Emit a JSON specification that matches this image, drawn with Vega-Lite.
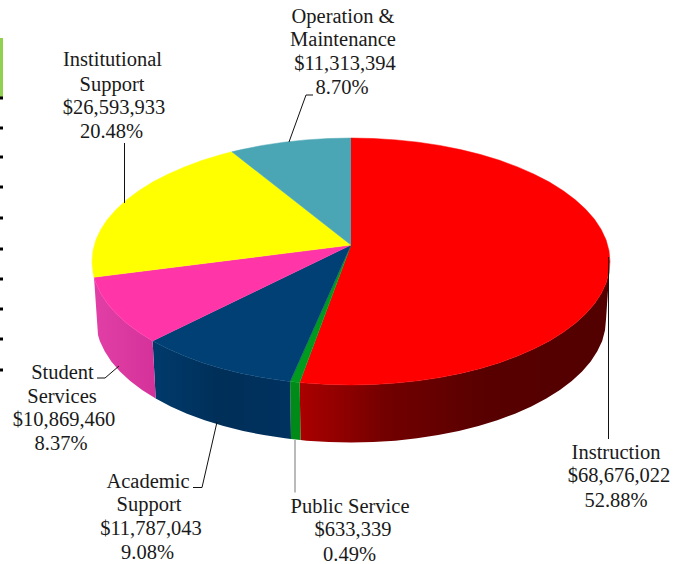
{
"$schema":"https://vega.github.io/schema/vega-lite/v6.json",
"width":684,"height":564,"padding":0,"autosize":{"type":"none"},"background":"white",
"config":{"view":{"stroke":null}},
"datasets":{
"side":[
{"s":"Instruction","i":0,"x":610,"y":261.5},{"s":"Instruction","i":5,"x":609,"y":272.3},{"s":"Instruction","i":10,"x":606.1,"y":283},{"s":"Instruction","i":15,"x":601.2,"y":293.5},{"s":"Instruction","i":20,"x":594.5,"y":303.7},{"s":"Instruction","i":25,"x":585.7,"y":313.7},{"s":"Instruction","i":30,"x":575.3,"y":323.3},{"s":"Instruction","i":35,"x":563.2,"y":332.3},{"s":"Instruction","i":40,"x":549.4,"y":340.9},{"s":"Instruction","i":45,"x":534.1,"y":348.8},{"s":"Instruction","i":50,"x":517.5,"y":356.1},{"s":"Instruction","i":55,"x":499.6,"y":362.7},{"s":"Instruction","i":60,"x":480.5,"y":368.5},{"s":"Instruction","i":65,"x":460.5,"y":373.4},{"s":"Instruction","i":70,"x":439.6,"y":377.6},{"s":"Instruction","i":75,"x":418,"y":380.8},{"s":"Instruction","i":80,"x":396.1,"y":383.1},{"s":"Instruction","i":85,"x":373.6,"y":384.5},{"s":"Instruction","i":90,"x":351,"y":385},{"s":"Instruction","i":95,"x":328.4,"y":384.5},{"s":"Instruction","i":100,"x":305.9,"y":383.1},{"s":"Instruction","i":101,"x":299.7,"y":382.5},
{"s":"Instruction","i":899,"x":300.5,"y":440},{"s":"Instruction","i":900,"x":306.6,"y":440.7},{"s":"Instruction","i":905,"x":328.8,"y":442},{"s":"Instruction","i":910,"x":351,"y":442.5},{"s":"Instruction","i":915,"x":373.2,"y":442},{"s":"Instruction","i":920,"x":395.4,"y":440.7},{"s":"Instruction","i":925,"x":417,"y":438.3},{"s":"Instruction","i":930,"x":438.2,"y":435.1},{"s":"Instruction","i":935,"x":458.8,"y":431},{"s":"Instruction","i":940,"x":478.5,"y":426},{"s":"Instruction","i":945,"x":497.3,"y":420.3},{"s":"Instruction","i":950,"x":515,"y":413.7},{"s":"Instruction","i":955,"x":531.3,"y":406.5},{"s":"Instruction","i":960,"x":546.3,"y":398.6},{"s":"Instruction","i":965,"x":559.9,"y":390.1},{"s":"Instruction","i":970,"x":571.8,"y":381},{"s":"Instruction","i":975,"x":582.1,"y":371.5},{"s":"Instruction","i":980,"x":590.7,"y":361.6},{"s":"Instruction","i":985,"x":597.3,"y":351.3},{"s":"Instruction","i":990,"x":602.2,"y":340.9},{"s":"Instruction","i":995,"x":605,"y":330.2},{"s":"Instruction","i":1000,"x":606,"y":319.5},
{"s":"Public Service","i":1,"x":299.7,"y":382.5},{"s":"Public Service","i":2,"x":290.1,"y":381.5},{"s":"Public Service","i":3,"x":291,"y":439.1},{"s":"Public Service","i":4,"x":300.5,"y":440},
{"s":"Academic Support","i":103,"x":290.1,"y":381.5},{"s":"Academic Support","i":105,"x":284,"y":380.8},{"s":"Academic Support","i":110,"x":262.4,"y":377.6},{"s":"Academic Support","i":115,"x":241.5,"y":373.4},{"s":"Academic Support","i":120,"x":221.5,"y":368.5},{"s":"Academic Support","i":125,"x":202.4,"y":362.7},{"s":"Academic Support","i":130,"x":184.5,"y":356.1},{"s":"Academic Support","i":135,"x":167.9,"y":348.8},{"s":"Academic Support","i":140,"x":152.6,"y":340.9},
{"s":"Academic Support","i":860,"x":155.7,"y":398.6},{"s":"Academic Support","i":865,"x":170.7,"y":406.5},{"s":"Academic Support","i":870,"x":187,"y":413.7},{"s":"Academic Support","i":875,"x":204.7,"y":420.3},{"s":"Academic Support","i":880,"x":223.5,"y":426},{"s":"Academic Support","i":885,"x":243.2,"y":431},{"s":"Academic Support","i":890,"x":263.8,"y":435.1},{"s":"Academic Support","i":895,"x":285,"y":438.3},{"s":"Academic Support","i":897,"x":291,"y":439.1},
{"s":"Student Services","i":140,"x":152.6,"y":340.9},{"s":"Student Services","i":145,"x":138.8,"y":332.3},{"s":"Student Services","i":150,"x":126.7,"y":323.3},{"s":"Student Services","i":155,"x":116.3,"y":313.7},{"s":"Student Services","i":160,"x":107.5,"y":303.7},{"s":"Student Services","i":165,"x":100.8,"y":293.5},{"s":"Student Services","i":170,"x":95.9,"y":283},{"s":"Student Services","i":173,"x":94,"y":277.2},
{"s":"Student Services","i":827,"x":98,"y":335.1},{"s":"Student Services","i":830,"x":99.8,"y":340.9},{"s":"Student Services","i":835,"x":104.7,"y":351.3},{"s":"Student Services","i":840,"x":111.3,"y":361.6},{"s":"Student Services","i":845,"x":119.9,"y":371.5},{"s":"Student Services","i":850,"x":130.2,"y":381},{"s":"Student Services","i":855,"x":142.1,"y":390.1},{"s":"Student Services","i":860,"x":155.7,"y":398.6}
],
"top":[
{"s":"Instruction","i":-1,"x":351,"y":245},{"s":"Instruction","i":270,"x":351,"y":138},{"s":"Instruction","i":275,"x":373.6,"y":138.5},{"s":"Instruction","i":280,"x":396.1,"y":139.9},{"s":"Instruction","i":285,"x":418,"y":142.2},{"s":"Instruction","i":290,"x":439.6,"y":145.4},{"s":"Instruction","i":295,"x":460.5,"y":149.6},{"s":"Instruction","i":300,"x":480.5,"y":154.5},{"s":"Instruction","i":305,"x":499.6,"y":160.3},{"s":"Instruction","i":310,"x":517.5,"y":166.9},{"s":"Instruction","i":315,"x":534.1,"y":174.2},{"s":"Instruction","i":320,"x":549.4,"y":182.1},{"s":"Instruction","i":325,"x":563.2,"y":190.7},{"s":"Instruction","i":330,"x":575.3,"y":199.8},{"s":"Instruction","i":335,"x":585.7,"y":209.3},{"s":"Instruction","i":340,"x":594.5,"y":219.3},{"s":"Instruction","i":345,"x":601.2,"y":229.5},{"s":"Instruction","i":350,"x":606.1,"y":240},{"s":"Instruction","i":355,"x":609,"y":250.7},{"s":"Instruction","i":360,"x":610,"y":261.5},{"s":"Instruction","i":365,"x":609,"y":272.3},{"s":"Instruction","i":370,"x":606.1,"y":283},{"s":"Instruction","i":375,"x":601.2,"y":293.5},{"s":"Instruction","i":380,"x":594.5,"y":303.7},{"s":"Instruction","i":385,"x":585.7,"y":313.7},{"s":"Instruction","i":390,"x":575.3,"y":323.3},{"s":"Instruction","i":395,"x":563.2,"y":332.3},{"s":"Instruction","i":400,"x":549.4,"y":340.9},{"s":"Instruction","i":405,"x":534.1,"y":348.8},{"s":"Instruction","i":410,"x":517.5,"y":356.1},{"s":"Instruction","i":415,"x":499.6,"y":362.7},{"s":"Instruction","i":420,"x":480.5,"y":368.5},{"s":"Instruction","i":425,"x":460.5,"y":373.4},{"s":"Instruction","i":430,"x":439.6,"y":377.6},{"s":"Instruction","i":435,"x":418,"y":380.8},{"s":"Instruction","i":440,"x":396.1,"y":383.1},{"s":"Instruction","i":445,"x":373.6,"y":384.5},{"s":"Instruction","i":450,"x":351,"y":385},{"s":"Instruction","i":455,"x":328.4,"y":384.5},{"s":"Instruction","i":460,"x":305.9,"y":383.1},{"s":"Instruction","i":461,"x":299.7,"y":382.5},
{"s":"Public Service","i":0,"x":351,"y":245},{"s":"Public Service","i":1,"x":299.7,"y":382.5},{"s":"Public Service","i":2,"x":290.1,"y":381.5},
{"s":"Academic Support","i":0,"x":351,"y":245},{"s":"Academic Support","i":103,"x":290.1,"y":381.5},{"s":"Academic Support","i":105,"x":284,"y":380.8},{"s":"Academic Support","i":110,"x":262.4,"y":377.6},{"s":"Academic Support","i":115,"x":241.5,"y":373.4},{"s":"Academic Support","i":120,"x":221.5,"y":368.5},{"s":"Academic Support","i":125,"x":202.4,"y":362.7},{"s":"Academic Support","i":130,"x":184.5,"y":356.1},{"s":"Academic Support","i":135,"x":167.9,"y":348.8},{"s":"Academic Support","i":140,"x":152.6,"y":340.9},
{"s":"Student Services","i":0,"x":351,"y":245},{"s":"Student Services","i":140,"x":152.6,"y":340.9},{"s":"Student Services","i":145,"x":138.8,"y":332.3},{"s":"Student Services","i":150,"x":126.7,"y":323.3},{"s":"Student Services","i":155,"x":116.3,"y":313.7},{"s":"Student Services","i":160,"x":107.5,"y":303.7},{"s":"Student Services","i":165,"x":100.8,"y":293.5},{"s":"Student Services","i":170,"x":95.9,"y":283},{"s":"Student Services","i":173,"x":94,"y":277.2},
{"s":"Institutional Support","i":0,"x":351,"y":245},{"s":"Institutional Support","i":173,"x":94,"y":277.2},{"s":"Institutional Support","i":175,"x":93,"y":272.3},{"s":"Institutional Support","i":180,"x":92,"y":261.5},{"s":"Institutional Support","i":185,"x":93,"y":250.7},{"s":"Institutional Support","i":190,"x":95.9,"y":240},{"s":"Institutional Support","i":195,"x":100.8,"y":229.5},{"s":"Institutional Support","i":200,"x":107.5,"y":219.3},{"s":"Institutional Support","i":205,"x":116.3,"y":209.3},{"s":"Institutional Support","i":210,"x":126.7,"y":199.8},{"s":"Institutional Support","i":215,"x":138.8,"y":190.7},{"s":"Institutional Support","i":220,"x":152.6,"y":182.1},{"s":"Institutional Support","i":225,"x":167.9,"y":174.2},{"s":"Institutional Support","i":230,"x":184.5,"y":166.9},{"s":"Institutional Support","i":235,"x":202.4,"y":160.3},{"s":"Institutional Support","i":240,"x":221.5,"y":154.5},{"s":"Institutional Support","i":243,"x":231.9,"y":151.8},
{"s":"Operation & Maintenance","i":0,"x":351,"y":245},{"s":"Operation & Maintenance","i":243,"x":231.9,"y":151.8},{"s":"Operation & Maintenance","i":245,"x":241.5,"y":149.6},{"s":"Operation & Maintenance","i":250,"x":262.4,"y":145.4},{"s":"Operation & Maintenance","i":255,"x":284,"y":142.2},{"s":"Operation & Maintenance","i":260,"x":305.9,"y":139.9},{"s":"Operation & Maintenance","i":265,"x":328.4,"y":138.5},{"s":"Operation & Maintenance","i":270,"x":351,"y":138}
],
"leaders":[
{"s":"Instruction","i":1,"x":608.5,"y":257},{"s":"Instruction","i":2,"x":608.5,"y":439},
{"s":"Public Service","i":1,"x":295,"y":440},{"s":"Public Service","i":2,"x":295,"y":492.5},
{"s":"Academic Support","i":1,"x":217,"y":422},{"s":"Academic Support","i":2,"x":202,"y":487.5},{"s":"Academic Support","i":3,"x":193,"y":487.5},
{"s":"Student Services","i":1,"x":119,"y":366},{"s":"Student Services","i":2,"x":105,"y":378},{"s":"Student Services","i":3,"x":97,"y":378},
{"s":"Institutional Support","i":1,"x":124.5,"y":143},{"s":"Institutional Support","i":2,"x":124.5,"y":203},
{"s":"Operation & Maintenance","i":1,"x":289,"y":142},{"s":"Operation & Maintenance","i":2,"x":306,"y":95},{"s":"Operation & Maintenance","i":3,"x":313,"y":95}
],
"labels":[
{"t":"Operation &","x":343,"y":17},{"t":"Maintenance","x":343,"y":40},{"t":"$11,313,394","x":345,"y":64},{"t":"8.70%","x":342,"y":88},
{"t":"Institutional","x":112.5,"y":60},{"t":"Support","x":112,"y":85},{"t":"$26,593,933","x":114,"y":108},{"t":"20.48%","x":111.5,"y":132},
{"t":"Student","x":62.5,"y":373},{"t":"Services","x":62,"y":397},{"t":"$10,869,460","x":64,"y":420},{"t":"8.37%","x":61,"y":444},
{"t":"Academic","x":148,"y":482},{"t":"Support","x":149,"y":505},{"t":"$11,787,043","x":151,"y":529},{"t":"9.08%","x":147.5,"y":553},
{"t":"Public Service","x":350,"y":507},{"t":"$633,339","x":353,"y":530},{"t":"0.49%","x":349.5,"y":555},
{"t":"Instruction","x":616,"y":453},{"t":"$68,676,022","x":619,"y":476},{"t":"52.88%","x":616,"y":501}
],
"ticks":[{"y":98},{"y":128},{"y":157},{"y":187},{"y":218},{"y":249},{"y":279},{"y":309},{"y":339},{"y":370}]
},
"encoding":{
"x":{"field":"x","type":"quantitative","scale":{"domain":[0,684],"nice":false,"zero":false},"axis":null},
"y":{"field":"y","type":"quantitative","scale":{"domain":[0,564],"reverse":true,"nice":false,"zero":false},"axis":null}
},
"layer":[
{"data":{"values":[{"a":0,"b":3,"c":38,"d":97}]},
 "mark":{"type":"rect","fill":"#92d050"},
 "encoding":{"x":{"field":"a","type":"quantitative"},"x2":{"field":"b"},"y":{"field":"c","type":"quantitative"},"y2":{"field":"d"}}},
{"data":{"name":"ticks"},"transform":[{"calculate":"0","as":"a"},{"calculate":"3","as":"b"}],
 "mark":{"type":"rule","stroke":"#000000","strokeWidth":3},
 "encoding":{"x":{"field":"a","type":"quantitative"},"x2":{"field":"b"},"y":{"field":"y","type":"quantitative"}}},
{"data":{"name":"side"},"transform":[{"filter":"datum.s==='Instruction'"}],
 "mark":{"type":"line","strokeWidth":0,"fill":{"x1":0,"x2":1,"y1":0,"y2":0,"gradient":"linear","stops":[{"offset":0,"color":"#ab0000"},{"offset":0.28,"color":"#720000"},{"offset":0.6,"color":"#580000"},{"offset":1,"color":"#520000"}]}},
 "encoding":{"order":{"field":"i"}}},
{"data":{"name":"side"},"transform":[{"filter":"datum.s==='Public Service'"}],
 "mark":{"type":"line","strokeWidth":0,"fill":"#008a18"},
 "encoding":{"order":{"field":"i"}}},
{"data":{"name":"side"},"transform":[{"filter":"datum.s==='Academic Support'"}],
 "mark":{"type":"line","strokeWidth":0,"fill":{"x1":0,"x2":1,"y1":0,"y2":0,"gradient":"linear","stops":[{"offset":0,"color":"#003a6c"},{"offset":0.5,"color":"#002f58"},{"offset":1,"color":"#003260"}]}},
 "encoding":{"order":{"field":"i"}}},
{"data":{"name":"side"},"transform":[{"filter":"datum.s==='Student Services'"}],
 "mark":{"type":"line","strokeWidth":0,"fill":{"x1":0,"x2":1,"y1":0,"y2":0,"gradient":"linear","stops":[{"offset":0,"color":"#e23fa6"},{"offset":1,"color":"#d4329a"}]}},
 "encoding":{"order":{"field":"i"}}},
{"data":{"name":"top"},
 "mark":{"type":"line","strokeWidth":0.5},
 "encoding":{"order":{"field":"i"},
  "fill":{"field":"s","type":"nominal","legend":null,"scale":{"domain":["Instruction","Public Service","Academic Support","Student Services","Institutional Support","Operation & Maintenance"],"range":["#ff0000","#009a1e","#004074","#ff35a8","#ffff00","#4aa6b4"]}},
  "stroke":{"field":"s","type":"nominal","legend":null,"scale":{"domain":["Instruction","Public Service","Academic Support","Student Services","Institutional Support","Operation & Maintenance"],"range":["#ff0000","#009a1e","#004074","#ff35a8","#ffff00","#4aa6b4"]}}}},
{"data":{"name":"leaders"},
 "mark":{"type":"line","strokeWidth":1},
 "encoding":{"order":{"field":"i"},
  "color":{"field":"s","type":"nominal","legend":null,"scale":{"domain":["Instruction","Public Service","Academic Support","Student Services","Institutional Support","Operation & Maintenance"],"range":["#111111","#777777","#111111","#111111","#111111","#111111"]}}}},
{"data":{"name":"labels"},
 "mark":{"type":"text","font":"Liberation Serif","fontSize":20.5,"fill":"#1a1a1a","align":"center","baseline":"middle"},
 "encoding":{"text":{"field":"t"}}}
]
}
